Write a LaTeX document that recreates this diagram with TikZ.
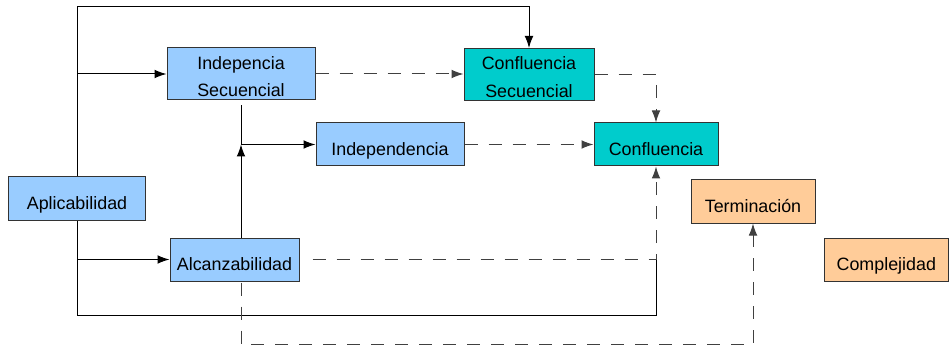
\documentclass[tikz,border=0pt]{standalone}
\usepackage{fontspec}
\setmainfont{Liberation Sans}
\usetikzlibrary{arrows.meta}
\definecolor{azul}{HTML}{99CCFF}
\definecolor{turquesa}{HTML}{00CCCC}
\definecolor{naranja}{HTML}{FFCC99}
\begin{document}
\begin{tikzpicture}[x=0.75pt, y=-0.75pt, font=\fontsize{13.4}{20.5}\selectfont, >={Latex[length=9pt,width=6.5pt]},
      caja/.style={draw=black!80, line width=0.75pt, align=center, inner sep=0pt, minimum height=32.25pt, text height=16pt, text depth=0pt},
      caja2/.style={caja, minimum height=39pt, text height=34pt},
      flujo/.style={line width=0.75pt},
      punt/.style={flujo, black!75, dash pattern=on 9.75pt off 8.25pt}]
    \useasboundingbox (0,0) rectangle (949,349);
    \node[caja, fill=azul, minimum width=102.75pt] (apl) at (77,198.5) {Aplicabilidad};
    \node[caja2, fill=azul, minimum width=111pt] (isec) at (241,74) {Indepencia\\Secuencial};
    \node[caja, fill=azul, minimum width=111pt] (indep) at (390,144.5) {Independencia};
    \node[caja2, fill=turquesa, minimum width=97.5pt] (csec) at (529,74.5) {Confluencia\\Secuencial};
    \node[caja, fill=turquesa, minimum width=93pt] (conf) at (656,144.5) {Confluencia};
    \node[caja, fill=azul, minimum width=96.75pt] (alc) at (234.5,259.5) {Alcanzabilidad};
    \node[caja, fill=naranja, minimum width=93pt] (term) at (753,201.5) {Terminación};
    \node[caja, fill=naranja, minimum width=93.4pt] (comp) at (886.3,259.5) {Complejidad};
    \draw[flujo, ->] (apl.north) -- ++(0,-170) -| (csec.north);
    \draw[flujo, ->] (apl.north |- isec) -- (isec.west);
    \draw[flujo] (apl.south) -- ++(0,95) -| (conf.south |- alc);
    \draw[flujo, ->] (apl.south |- alc) -- (alc.west);
    \draw[punt, ->] (isec.east) -- (isec.east -| csec.west);
    \draw[punt, ->] (csec.east) -| (conf.north);
    \draw[flujo] ([yshift=-3.75pt]isec.south) -- (isec.south |- indep.west);
    \draw[flujo, ->] (alc.north -| isec.south) -- (isec.south |- indep.west);
    \draw[flujo, ->] (isec.south |- indep.west) -- (indep.west);
    \draw[punt, ->] (indep) -- (conf);
    \draw[punt, ->] ([xshift=9.75pt]alc.east) -| (conf.south);
    \draw[punt, ->] ([yshift=-0.75pt]alc.south -| isec.south) -- ++(0,62) -| (term.south);
\end{tikzpicture}
\end{document}
